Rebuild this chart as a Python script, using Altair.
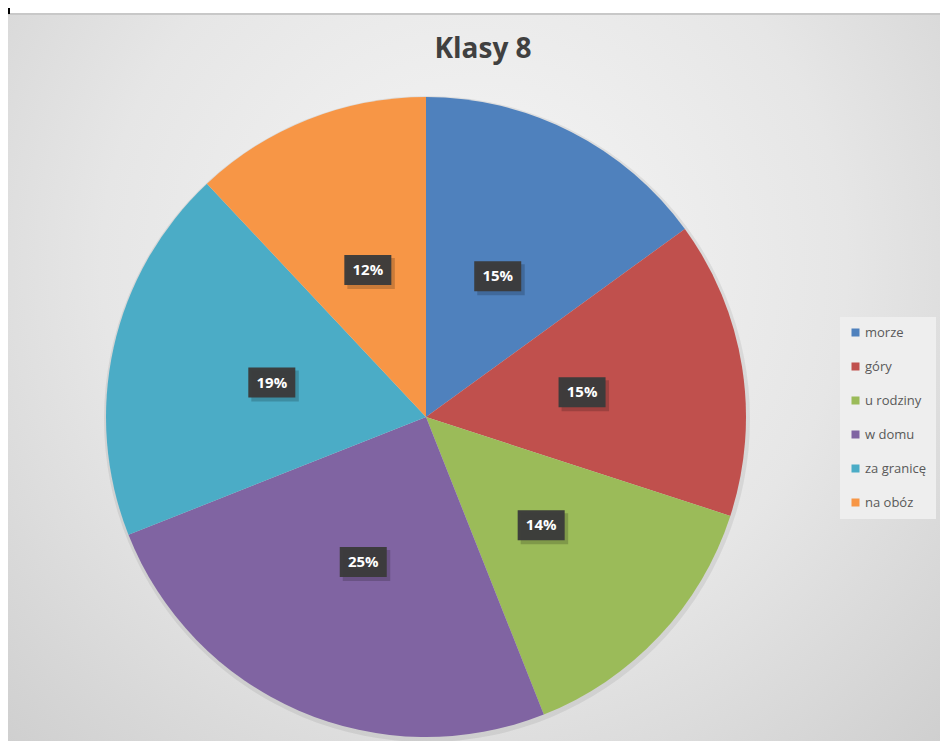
import altair as alt
import pandas as pd

title_text = "Klasy 8"
cats = ["morze", "góry", "u rodziny", "w domu", "za granicę", "na obóz"]
vals = [15, 15, 14, 25, 19, 12]
colors = ["#4F81BD", "#C0504D", "#9BBB59", "#8064A2", "#4BACC6", "#F79646"]

W, H = 932, 733
CX, CY, R = 418, 409, 320
LR = 158

df = pd.DataFrame({"cat": cats, "val": vals, "idx": list(range(len(cats)))})
one = pd.DataFrame({"t": [title_text]})

grad = alt.RadialGradient(
    gradient="radial",
    x1=0.5, y1=0.38, r1=0,
    x2=0.5, y2=0.38, r2=0.8,
    stops=[alt.GradientStop(color="#f6f6f6", offset=0),
           alt.GradientStop(color="#e6e6e6", offset=0.5),
           alt.GradientStop(color="#c9c9c9", offset=1)],
)

bg = alt.Chart(one).mark_rect(fill=grad).encode(
    x=alt.value(0), x2=alt.value(W), y=alt.value(6), y2=alt.value(H)
)
topline = alt.Chart(one).mark_rule(color="#c8c8c8", strokeWidth=2).encode(
    x=alt.value(0), x2=alt.value(W), y=alt.value(6)
)
leftline = alt.Chart(one).mark_rule(color="#000000", strokeWidth=2).encode(
    x=alt.value(1), y=alt.value(0), y2=alt.value(6)
)

title = alt.Chart(one).mark_text(
    font="Open Sans", fontWeight="bold", fontSize=28, color="#404040",
    align="center", baseline="middle"
).encode(x=alt.value(475), y=alt.value(42), text="t:N")

shadow = alt.Chart(one).mark_arc(radius=323, color="#000000", opacity=0.07).encode(
    theta=alt.value(6.2832), x=alt.value(CX + 1), y=alt.value(CY + 2)
)

pie = alt.Chart(df).mark_arc(radius=R).encode(
    theta=alt.Theta("val:Q", stack=True),
    order=alt.Order("idx:Q"),
    color=alt.Color(
        "cat:N",
        scale=alt.Scale(domain=cats, range=colors),
        legend=alt.Legend(
            title=None, orient="none", legendX=832, legendY=309,
            fillColor="#eeeeee", padding=9,
            symbolType="square", symbolSize=64, symbolStrokeWidth=0,
            labelFont="Open Sans", labelFontSize=13, labelColor="#595959",
            rowPadding=20, labelOffset=3,
        ),
    ),
    x=alt.value(CX), y=alt.value(CY),
)

lab = alt.Chart(df).transform_joinaggregate(
    total="sum(val)"
).transform_window(
    cum="sum(val)", sort=[alt.SortField("idx")], frame=[None, 0]
).transform_calculate(
    mid="(datum.cum - datum.val/2)/datum.total*2*PI",
    pct="datum.val/datum.total",
).transform_calculate(
    lx=f"{CX} + {LR}*sin(datum.mid)",
    ly=f"{CY} - {LR}*cos(datum.mid)",
).transform_calculate(
    bx1="datum.lx - 23.5", bx2="datum.lx + 23.5",
    by1="datum.ly - 15", by2="datum.ly + 15",
    sx1="datum.lx - 20.5", sx2="datum.lx + 27",
    sy1="datum.ly - 12", sy2="datum.ly + 19",
)

boxshadow = lab.mark_rect(color="#000000", opacity=0.18).encode(
    x=alt.X("sx1:Q", scale=None, axis=None), x2="sx2:Q",
    y=alt.Y("sy1:Q", scale=None, axis=None), y2="sy2:Q",
)
box = lab.mark_rect(color="#3b3b3b", opacity=0.97).encode(
    x=alt.X("bx1:Q", scale=None, axis=None), x2="bx2:Q",
    y=alt.Y("by1:Q", scale=None, axis=None), y2="by2:Q",
)
txt = lab.mark_text(
    font="Open Sans", fontWeight="bold", fontSize=15, color="white",
    align="center", baseline="middle"
).encode(
    x=alt.X("lx:Q", scale=None, axis=None),
    y=alt.Y("ly:Q", scale=None, axis=None),
    text=alt.Text("pct:Q", format=".0%"),
)

chart = alt.layer(bg, topline, leftline, title, shadow, pie, boxshadow, box, txt).properties(
    width=W, height=H, autosize=alt.AutoSizeParams(type="none"), padding=0,
    background="white",
).configure_view(stroke=None)

chart.save("out.html", embed_options={"renderer": "svg", "actions": False})
